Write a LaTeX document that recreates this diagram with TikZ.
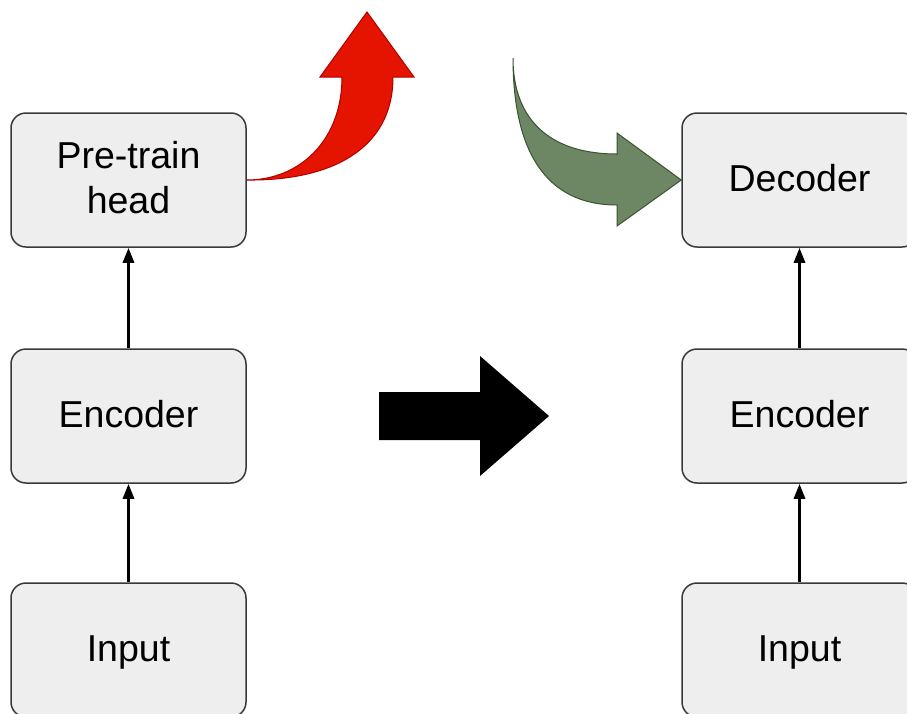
\documentclass[tikz,border=0pt]{standalone}
\usepackage{fontspec}
\setmainfont{Liberation Sans}
\usetikzlibrary{arrows.meta}

\definecolor{boxfill}{HTML}{EEEEEE}
\definecolor{boxline}{HTML}{36393D}
\definecolor{redfill}{HTML}{E51400}
\definecolor{redline}{HTML}{B20000}
\definecolor{greenfill}{HTML}{6D8764}
\definecolor{greenline}{HTML}{3A5431}

\tikzset{
  block/.style={draw=boxline, fill=boxfill, line width=1.5pt, rounded corners=15pt,
    minimum width=235pt, minimum height=134pt, inner sep=0pt, align=center,
    text height=27pt, text depth=5pt,
    font=\fontsize{37.5}{45}\selectfont},
  twoline/.style={text height=72pt},
  conn/.style={line width=3pt, -{Triangle[length=15pt,width=11pt]}},
  bigarrow/.style={line width=1pt, line join=miter}
}

\begin{document}
\begin{tikzpicture}[x=1pt,y=-1pt]
  \useasboundingbox (0,0) rectangle (907,713);
  \fill[white] (0,0) rectangle (907,713);

  % left column: pre-training model
  \node[block, twoline] (pre) at (128.5,180) {Pre-train\\head};
  \node[block] (encL) at (128.5,416) {Encoder};
  \node[block] (inL)  at (128.5,650) {Input};

  % right column: fine-tuned model
  \node[block] (dec)  at (799.5,180) {Decoder};
  \node[block] (encR) at (799.5,416) {Encoder};
  \node[block] (inR)  at (799.5,650) {Input};

  \draw[conn] (inL.north)  -- (encL.south);
  \draw[conn] (encL.north) -- (pre.south);
  \draw[conn] (inR.north)  -- (encR.south);
  \draw[conn] (encR.north) -- (dec.south);

  % head removed: curved red arrow leaving the pre-train head
  \filldraw[bigarrow, fill=redfill, draw=redline]
    (pre.east) .. controls (330,181) and (393,150) .. (393,77)
    -- (414,77) -- (367,12) -- (320,77) -- (342,77)
    .. controls (342,140) and (300,180) .. (pre.east) -- cycle;

  % new head plugged in: curved green arrow entering the decoder
  \coordinate (gtail) at (513,58);
  \filldraw[bigarrow, fill=greenfill, draw=greenline]
    (gtail) .. controls (513,120) and (550,154) .. (617,154)
    -- (617,133) -- (dec.west) -- (617,226) -- (617,205)
    .. controls (545,205) and (513,150) .. (gtail) -- cycle;

  % transfer arrow between the two models
  \fill[black] (379,392) -- (480,392) -- (480,356) -- (549,416)
    -- (480,476) -- (480,440) -- (379,440) -- cycle;
\end{tikzpicture}
\end{document}
